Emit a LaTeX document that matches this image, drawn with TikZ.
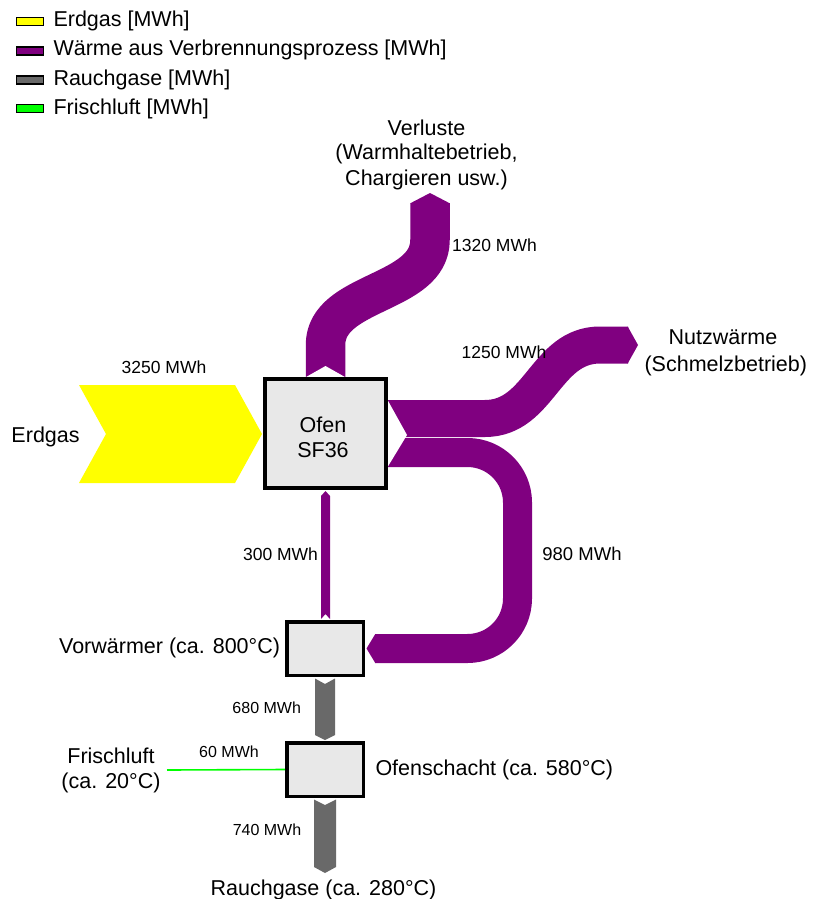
\documentclass[tikz,border=0pt]{standalone}
\usepackage{fontspec}
\setmainfont{Liberation Sans}
\definecolor{gasyellow}{HTML}{FFFF00}
\definecolor{heatpurple}{HTML}{800080}
\definecolor{fluegray}{HTML}{696969}
\definecolor{airgreen}{HTML}{00FF00}
\definecolor{boxgray}{HTML}{E8E8E8}
\pgfdeclarelayer{bg}
\pgfsetlayers{bg,main}
\begin{document}
\begin{tikzpicture}[x=1pt,y=-1pt,
  lbl/.style={font=\fontsize{21.5}{25}\selectfont, inner sep=0pt, outer sep=0pt},
  num/.style={font=\fontsize{17.5}{20}\selectfont, inner sep=0pt, outer sep=0pt},
  numbig/.style={font=\fontsize{18.5}{21}\selectfont, inner sep=0pt, outer sep=0pt},
  numsmall/.style={font=\fontsize{16}{19}\selectfont, inner sep=0pt, outer sep=0pt},
  unitbox/.style={draw=black, line width=4pt, fill=boxgray, inner sep=0pt},
  smallunit/.style={draw=black, line width=3.5pt, fill=boxgray, inner sep=0pt, minimum width=76.5pt, minimum height=53.5pt},
  legbox/.style={draw=black, line width=1.2pt, minimum width=27pt, minimum height=8pt, inner sep=0pt},
  band/.style={line cap=butt, line join=round}
]
\useasboundingbox (0,0) rectangle (812,899);

% ---------- legend ----------
\node[legbox, fill=gasyellow] (lg1) at (30,21.7) {};
\node[legbox, fill=heatpurple] (lg2) at (30,51) {};
\node[legbox, fill=fluegray] (lg3) at (30,80) {};
\node[legbox, fill=airgreen] (lg4) at (30,108.5) {};
\node[lbl, anchor=base west] (lt1) at (53.5,27) {Erdgas [MWh]};
\node[lbl, anchor=base west] (lt2) at (53.5,56) {Wärme aus Verbrennungsprozess [MWh]};
\node[lbl, anchor=base west] (lt3) at (53.5,85) {Rauchgase [MWh]};
\node[lbl, anchor=base west] (lt4) at (53.5,114) {Frischluft [MWh]};

% ---------- process boxes ----------
\node[unitbox, minimum width=121pt, minimum height=109pt] (ofen) at (325.5,433.5) {};
\node[smallunit] (vorw) at (325,648.5) {};
\node[smallunit] (schacht) at (325,769.5) {};

% ---------- flow end points ----------
\coordinate (vl0) at (325.5,377);
\coordinate (vl1) at (430,203);
\coordinate (nw0) at (388,418.5);
\coordinate (nw1) at (628,345);
\coordinate (rk0) at (388,452.5);
\coordinate (rk1) at (375,648.5);
\coordinate (fl0) at (167,770);

\begin{pgfonlayer}{bg}
% Erdgas
\fill[gasyellow] (79,385) -- (235,385) -- (262,434) -- (235,483) -- (79,483) -- (106,434) -- cycle;
% Verluste 1320
\draw[band, heatpurple, line width=39.5pt] (vl0) -- (325.5,345) .. controls (325.5,290) and (430,295) .. (430,240) -- (vl1);
\fill[white] (305,377.6) -- (325.5,366) -- (346,377.6) -- cycle;
\fill[heatpurple] (410.25,203.3) -- (430,193) -- (449.75,203.3) -- cycle;
% Nutzwaerme 1250
\draw[band, heatpurple, line width=37pt] (nw0) -- (485,418.5) .. controls (540,418.5) and (545,345) .. (600,345) -- (nw1);
\fill[heatpurple] (627.7,326.5) -- (638,345) -- (627.7,363.5) -- cycle;
% Rueckfuehrung 980
\draw[band, heatpurple, line width=29pt, rounded corners=50pt] (rk0) -- (517.5,452.5) -- (517.5,648.5) -- (rk1);
\fill[heatpurple] (375.3,634) -- (366.5,648.5) -- (375.3,663) -- cycle;
% notch at the furnace outlet
\fill[white] (387,399) -- (407,435) -- (387,468) -- cycle;
% 300 MWh
\fill[heatpurple] (321,496) -- (325.5,491) -- (330,496) -- (330,619) -- (325.5,614) -- (321,619) -- cycle;
% 680 MWh
\fill[fluegray] (315,678.5) -- (325,684) -- (335,678.5) -- (335,735) -- (325,740) -- (315,735) -- cycle;
% 740 MWh
\fill[fluegray] (314,799.5) -- (325,805) -- (336,799.5) -- (336,867) -- (325,873) -- (314,867) -- cycle;
% Frischluft 60
\draw[airgreen, line width=1.6pt] (fl0) -- (schacht.west);
\end{pgfonlayer}

% ---------- labels ----------
\node[lbl, anchor=base west] (terdgas) at (11.5,442) {Erdgas};
\node[num, anchor=base] (n3250) at (164,373) {3250 MWh};
\node[lbl, anchor=base] (tofen1) at (323,432) {Ofen};
\node[lbl, anchor=base] (tofen2) at (323,457) {SF36};
\node[lbl, anchor=base] (tverl1) at (426.5,135) {Verluste};
\node[lbl, anchor=base] (tverl2) at (426.5,159.5) {(Warmhaltebetrieb,};
\node[lbl, anchor=base] (tverl3) at (426.5,185) {Chargieren usw.)};
\node[num, anchor=base] (n1320) at (494.5,251.7) {1320 MWh};
\node[num, anchor=base] (n1250) at (504,358.3) {1250 MWh};
\node[lbl, anchor=base] (tnutz1) at (723,344) {Nutzwärme};
\node[lbl, anchor=base] (tnutz2) at (725.8,371.7) {(Schmelzbetrieb)};
\node[num, anchor=base] (n300) at (280.5,560.5) {300 MWh};
\node[numbig, anchor=base] (n980) at (582,560) {980 MWh};
\node[lbl, anchor=base east] (tvorw) at (280,653.5) {Vorwärmer (ca. 800°C)};
\node[numsmall, anchor=base] (n680) at (266.7,713.3) {680 MWh};
\node[numsmall, anchor=base] (n60) at (229,757.3) {60 MWh};
\node[numsmall, anchor=base] (n740) at (267,835.7) {740 MWh};
\node[lbl, anchor=base] (tfrisch1) at (111,763) {Frischluft};
\node[lbl, anchor=base] (tfrisch2) at (111,788) {(ca. 20°C)};
\node[lbl, anchor=base west] (tschacht) at (375.5,775.5) {Ofenschacht (ca. 580°C)};
\node[lbl, anchor=base] (trauch) at (323.5,895) {Rauchgase (ca. 280°C)};
\end{tikzpicture}
\end{document}
